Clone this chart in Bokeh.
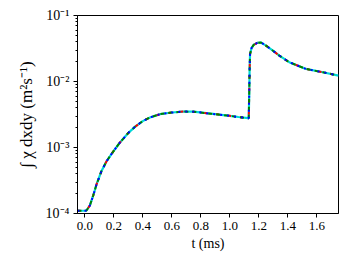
from bokeh.plotting import figure
from bokeh.models import FixedTicker, PrintfTickFormatter, CustomJSTickFormatter, Range1d
from bokeh.embed import file_html
from bokeh.resources import INLINE

# time (ms)
t = [-0.05, -0.02, 0.0, 0.012, 0.035, 0.058, 0.081, 0.115, 0.15, 0.19, 0.24,
     0.30, 0.35, 0.40, 0.45, 0.52, 0.60, 0.68, 0.75, 0.87, 0.985, 1.06, 1.127,
     1.131, 1.134, 1.137, 1.140, 1.150, 1.165, 1.19, 1.215, 1.25, 1.30, 1.342,
     1.41, 1.526, 1.642, 1.75]
# integrated chi (m^2 s^-1)
chi = [1.1e-4, 1.1e-4, 1.1e-4, 1.11e-4, 1.32e-4, 1.86e-4, 2.75e-4, 4.37e-4,
       6.17e-4, 8.3e-4, 1.17e-3, 1.66e-3, 2.09e-3, 2.51e-3, 2.85e-3, 3.2e-3,
       3.39e-3, 3.5e-3, 3.49e-3, 3.25e-3, 3.05e-3, 2.9e-3, 2.78e-3, 2.8e-3,
       6.0e-3, 1.5e-2, 2.6e-2, 3.2e-2, 3.6e-2, 3.85e-2, 3.9e-2, 3.5e-2,
       2.9e-2, 2.47e-2, 1.96e-2, 1.55e-2, 1.38e-2, 1.23e-2]

# overlapping runs (identical within plot resolution)
series = {"cyan": chi, "red": chi, "green": chi, "blue": chi}

x_ticks = [0.0, 0.2, 0.4, 0.6, 0.8, 1.0, 1.2, 1.4, 1.6]
y_ticks = [1e-4, 1e-3, 1e-2, 1e-1]
y_minor = [m * d for d in [1e-4, 1e-3, 1e-2] for m in range(2, 10)]

FONT = "Liberation Serif"

p = figure(width=343, height=254, y_axis_type="log",
           x_range=Range1d(-0.05, 1.75), y_range=Range1d(1e-4, 1e-1),
           output_backend="svg", toolbar_location=None,
           min_border_left=77, min_border_top=15, min_border_right=5,
           min_border_bottom=41)
p.background_fill_color = "white"
p.border_fill_color = "white"
p.outline_line_color = "black"
p.outline_line_width = 1
p.xgrid.visible = False
p.ygrid.visible = False

styles = [
    ("cyan", "#00d8d8", "solid", 2.2),
    ("red", "#ff0000", "3 9", 2.0),
    ("green", "#008000", "4 4", 2.0),
    ("blue", "#0000ff", "2 5", 2.0),
]
for name, col, dash, w in styles:
    p.line(t, series[name], line_color=col, line_dash=dash, line_width=w)

p.xaxis.ticker = FixedTicker(ticks=x_ticks)
p.xaxis.formatter = PrintfTickFormatter(format="%.1f")
p.yaxis.ticker = FixedTicker(ticks=y_ticks, minor_ticks=y_minor)
p.yaxis.formatter = CustomJSTickFormatter(code="""
const sup = {'-':'\u207b','0':'\u2070','1':'\u00b9','2':'\u00b2','3':'\u00b3',
             '4':'\u2074','5':'\u2075','6':'\u2076','7':'\u2077','8':'\u2078','9':'\u2079'};
const e = Math.round(Math.log10(tick));
return '10' + String(e).split('').map(c => sup[c]).join('');
""")

for ax in (p.xaxis, p.yaxis):
    ax.axis_line_color = "black"
    ax.major_tick_line_color = "black"
    ax.minor_tick_line_color = "black"
    ax.major_tick_in = 0
    ax.major_tick_out = 4
    ax.minor_tick_in = 0
    ax.minor_tick_out = 2
    ax.major_label_text_font = FONT
    ax.major_label_text_font_size = "13px"
    ax.major_label_text_color = "black"
    ax.axis_label_text_font = FONT
    ax.axis_label_text_font_style = "normal"
    ax.axis_label_text_color = "black"

p.xaxis.minor_tick_line_color = None
p.xaxis.axis_label = "t (ms)"
p.xaxis.axis_label_text_font_size = "14px"
p.xaxis.axis_label_standoff = 3
p.xaxis.major_label_standoff = 4
p.yaxis.axis_label = "\u222b \u03c7 dxdy (m\u00b2s\u207b\u00b9)"
p.yaxis.axis_label_text_font_size = "17px"
p.yaxis.axis_label_standoff = 7
p.yaxis.major_label_text_font_size = "14px"
p.yaxis.major_label_standoff = 4

open("out.html", "w").write(file_html(p, INLINE))
